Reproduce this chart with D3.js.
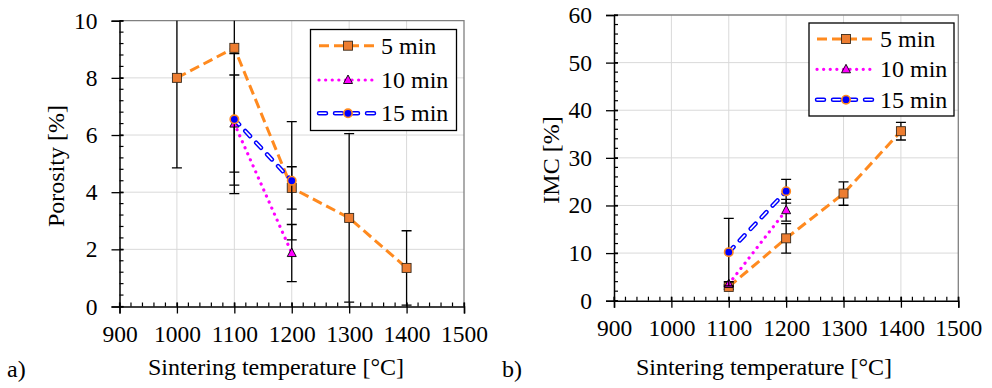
<!DOCTYPE html>
<html>
<head>
<meta charset="utf-8">
<script src="https://cdn.jsdelivr.net/npm/d3@7"></script>
<style>
  body { margin: 0; background: #fff; }
  svg text { font-family: 'Liberation Serif', 'Times New Roman', Times, serif; }
</style>
</head>
<body>
<svg id="chart" width="992" height="388"></svg>
<script>
// Series labels
const seriesNames = ['5 min', '10 min', '15 min']

// a) Porosity [%]
const porosityX5 = [1000, 1100, 1200, 1300, 1400]
const porosityY5 = [8.0, 9.05, 4.15, 3.1, 1.35]
const porosityE5 = [3.15, 5.1, 0.74, 2.95, 1.3]
const porosityX10 = [1100, 1200]
const porosityY10 = [6.4, 1.87]
const porosityE10 = [1.7, 1.0]
const porosityX15 = [1100, 1200]
const porosityY15 = [6.55, 4.4]
const porosityE15 = [2.3, 2.07]

// b) IMC [%]
const imcX5 = [1100, 1200, 1300, 1400]
const imcY5 = [2.9, 13.1, 22.5, 35.6]
const imcE5 = [0.5, 3.1, 2.45, 1.85]
const imcX10 = [1100, 1200]
const imcY10 = [3.5, 19.0]
const imcE10 = [0.5, 2.3]
const imcX15 = [1100, 1200]
const imcY15 = [10.2, 23.0]
const imcE15 = [7.1, 2.5]

// Axis ticks
const xTicks = [900, 1000, 1100, 1200, 1300, 1400, 1500]
const porosityTicks = [0, 2, 4, 6, 8, 10]
const imcTicks = [0, 10, 20, 30, 40, 50, 60]

const FONT = 'Liberation Serif'
const svg = d3.select('#chart')

// Line / marker styles per series.
const styles = [
  { color: '#ff8a1f', dash: '10,5', width: 3, cap: 'butt', marker: 'square' },
  { color: '#ff00ff', dash: '0.1,6.5', width: 3.2, cap: 'round', marker: 'triangle' },
  { color: '#0000ff', dash: '7,9', width: 4.5, cap: 'round', marker: 'circle', hollow: true }
]

function drawMarker(g, type, x, y) {
  if (type === 'square') {
    g.append('rect')
      .attr('x', x - 4.5).attr('y', y - 4.5)
      .attr('width', 9).attr('height', 9)
      .attr('fill', '#ed7d31').attr('stroke', '#3a2a1a').attr('stroke-width', 0.9)
  } else if (type === 'triangle') {
    g.append('path')
      .attr('d', 'M' + x + ',' + (y - 5) + 'L' + (x + 4.5) + ',' + (y + 3.5) + 'L' + (x - 4.5) + ',' + (y + 3.5) + 'Z')
      .attr('fill', '#ff00ff').attr('stroke', '#000').attr('stroke-width', 0.9)
  } else {
    g.append('circle')
      .attr('cx', x).attr('cy', y).attr('r', 4.2)
      .attr('fill', '#0000ff').attr('stroke', '#ff8a1f').attr('stroke-width', 1.6)
  }
}

function drawStyledLine(g, st, d) {
  g.append('path')
    .attr('d', d)
    .attr('fill', 'none')
    .attr('stroke', st.color)
    .attr('stroke-width', st.width)
    .attr('stroke-dasharray', st.dash)
    .attr('stroke-linecap', st.cap)
  if (st.hollow) {
    g.append('path')
      .attr('d', d)
      .attr('fill', 'none')
      .attr('stroke', '#fff')
      .attr('stroke-width', 1.6)
      .attr('stroke-dasharray', st.dash)
      .attr('stroke-linecap', st.cap)
  }
}

function label(g, x, y, txt) {
  return g.append('text')
    .attr('x', x).attr('y', y)
    .attr('font-family', FONT).attr('font-size', 24).attr('fill', '#000')
    .text(txt)
}

function panel(p) {
  const x = d3.scaleLinear().domain([900, 1500]).range([p.left, p.right])
  const y = d3.scaleLinear().domain([0, p.yMax]).range([p.bottom, p.top])
  const g = svg.append('g')

  // Gridlines.
  g.selectAll('.vgrid').data(xTicks.slice(1, -1)).enter().append('line')
    .attr('x1', d => x(d)).attr('x2', d => x(d))
    .attr('y1', p.top).attr('y2', p.bottom)
    .attr('stroke', '#d9d9d9').attr('stroke-width', 1)
  g.selectAll('.hgrid').data(p.yTicks.slice(1, -1)).enter().append('line')
    .attr('x1', p.left).attr('x2', p.right)
    .attr('y1', d => y(d)).attr('y2', d => y(d))
    .attr('stroke', '#d9d9d9').attr('stroke-width', 1)

  // Top and right border.
  g.append('path')
    .attr('d', 'M' + p.left + ',' + p.top + 'H' + p.right + 'V' + p.bottom)
    .attr('fill', 'none').attr('stroke', '#808080').attr('stroke-width', 1.3)

  // Axes.
  const yAxis = d3.axisLeft(y).tickValues(p.yTicks).tickSize(8).tickPadding(14).tickFormat(d3.format('d'))
  const ya = g.append('g').attr('transform', 'translate(' + p.left + ',0)').call(yAxis)
  const xAxis = d3.axisBottom(x).tickValues(xTicks).tickSize(7).tickPadding(12).tickFormat(d3.format('d'))
  const xa = g.append('g').attr('transform', 'translate(0,' + p.bottom + ')').call(xAxis)
  ;[ya, xa].forEach(a => {
    a.attr('font-family', FONT).attr('font-size', 23.5)
    a.select('.domain').attr('stroke', '#000').attr('stroke-width', 1.5)
    a.selectAll('.tick line').attr('stroke', '#000').attr('stroke-width', 1.3)
    a.selectAll('.tick text').attr('fill', '#000')
  })
  ya.selectAll('.tick line').attr('x2', 4).attr('x1', -8)
  xa.selectAll('.tick line').attr('y1', -4).attr('y2', 7)

  // Minor ticks.
  const yMinor = d3.range(0, p.yMax + 1e-9, p.yMinor)
  g.selectAll('.ym').data(yMinor).enter().append('line')
    .attr('x1', p.left).attr('x2', p.left + 4)
    .attr('y1', d => y(d)).attr('y2', d => y(d))
    .attr('stroke', '#000').attr('stroke-width', 1.2)
  const xMinor = d3.range(900, 1500 + 1e-9, 20)
  g.selectAll('.xm').data(xMinor).enter().append('line')
    .attr('x1', d => x(d)).attr('x2', d => x(d))
    .attr('y1', p.bottom).attr('y2', p.bottom - 4)
    .attr('stroke', '#000').attr('stroke-width', 1.2)

  // Clip for error bars.
  const clipId = 'clip' + p.id
  svg.append('clipPath').attr('id', clipId).append('rect')
    .attr('x', p.left - 10).attr('y', p.top)
    .attr('width', p.right - p.left + 20).attr('height', p.bottom - p.top + 2)

  // Series.
  p.series.forEach((s, k) => {
    const st = styles[k]
    const sg = g.append('g')
    const eg = sg.append('g').attr('clip-path', 'url(#' + clipId + ')')
    s.x.forEach((xv, i) => {
      const cx = x(xv)
      const lo = y(s.y[i] - s.e[i]), hi = y(s.y[i] + s.e[i])
      eg.append('line').attr('x1', cx).attr('x2', cx).attr('y1', lo).attr('y2', hi)
        .attr('stroke', '#000').attr('stroke-width', 1.3)
      ;[lo, hi].forEach(v => {
        eg.append('line').attr('x1', cx - 5).attr('x2', cx + 5).attr('y1', v).attr('y2', v)
          .attr('stroke', '#000').attr('stroke-width', 1.3)
      })
    })
    const line = d3.line().x((d, i) => x(s.x[i])).y(d => y(d))
    drawStyledLine(sg, st, line(s.y))
    s.x.forEach((xv, i) => drawMarker(sg, st.marker, x(xv), y(s.y[i])))
  })

  // Legend.
  const L = p.legend
  g.append('rect')
    .attr('x', L.x).attr('y', L.y).attr('width', L.w).attr('height', L.h)
    .attr('fill', '#fff').attr('stroke', '#000').attr('stroke-width', 1.3)
  seriesNames.forEach((name, k) => {
    const ly = L.rows[k]
    drawStyledLine(g, styles[k], 'M' + L.lx1 + ',' + ly + 'H' + L.lx2)
    drawMarker(g, styles[k].marker, (L.lx1 + L.lx2) / 2, ly)
    label(g, L.tx, ly + 8, name)
  })

  // Axis titles.
  label(g, 0, 0, p.yTitle)
    .attr('transform', 'translate(' + p.yTitleX + ',' + p.yTitleY + ') rotate(-90)')
    .attr('text-anchor', 'middle')
  label(g, p.xTitleX, 375, 'Sintering temperature [°C]').attr('text-anchor', 'middle')
  label(g, p.tagX, 377, p.tag)
}

panel({
  id: 'a', left: 119.5, right: 464, top: 20.7, bottom: 306.5, yMax: 10, yMinor: 0.4,
  yTicks: porosityTicks, yTitle: 'Porosity [%]', yTitleX: 64, yTitleY: 166,
  xTitleX: 276, tag: 'a)', tagX: 7,
  series: [
    { x: porosityX5, y: porosityY5, e: porosityE5 },
    { x: porosityX10, y: porosityY10, e: porosityE10 },
    { x: porosityX15, y: porosityY15, e: porosityE15 }
  ],
  legend: { x: 310.5, y: 29.5, w: 146, h: 101, rows: [45.7, 80, 113.3], lx1: 319, lx2: 377, tx: 381 }
})

panel({
  id: 'b', left: 614, right: 958.3, top: 15, bottom: 300.7, yMax: 60, yMinor: 2,
  yTicks: imcTicks, yTitle: 'IMC [%]', yTitleX: 559, yTitleY: 160,
  xTitleX: 764, tag: 'b)', tagX: 502,
  series: [
    { x: imcX5, y: imcY5, e: imcE5 },
    { x: imcX10, y: imcY10, e: imcE10 },
    { x: imcX15, y: imcY15, e: imcE15 }
  ],
  legend: { x: 809, y: 23, w: 145, h: 93, rows: [39, 69.3, 99.7], lx1: 817, lx2: 875, tx: 880 }
})
</script>
</body>
</html>
